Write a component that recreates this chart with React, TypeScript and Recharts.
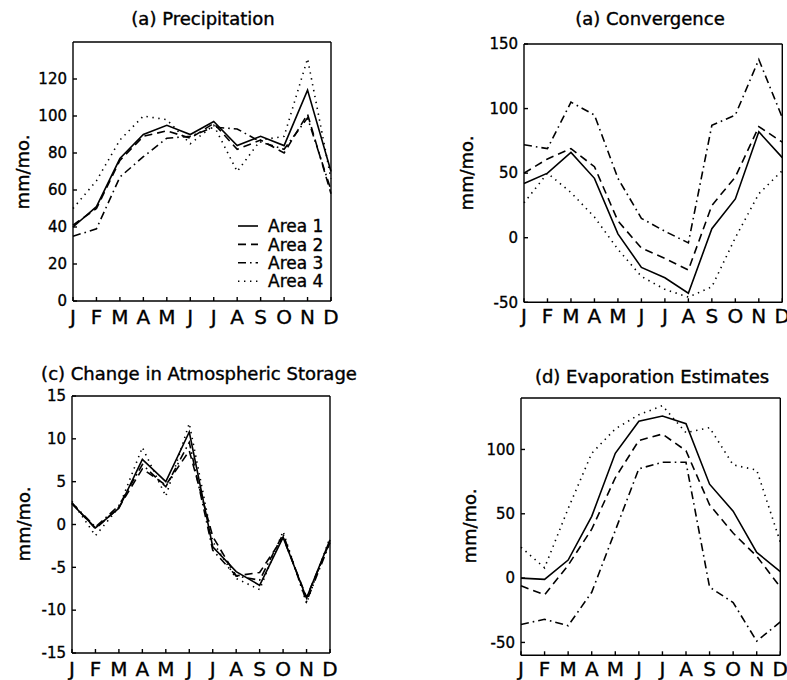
import React from "react";
import { Legend, Line, LineChart, XAxis, YAxis } from "recharts";

const months = ["J", "F", "M", "A", "M", "J", "J", "A", "S", "O", "N", "D"];

// (a) Precipitation, mm/mo.
const precipArea1 = [40, 51, 77, 90, 95, 90, 97, 84, 89, 84, 114, 70];
const precipArea2 = [41, 50, 76, 89, 92, 88, 96, 82, 87, 80, 101, 58];
const precipArea3 = [35, 39, 67, 78, 88, 89, 94, 93, 86, 82, 99, 60];
const precipArea4 = [50, 65, 87, 100, 98, 85, 95, 70, 87, 89, 131, 66];

// (a) Convergence
const convArea1 = [42, 50, 66, 46, 3, -23, -31, -43, 7, 30, 82, 62];
const convArea2 = [50, 61, 69, 55, 13, -8, -16, -25, 25, 47, 86, 74];
const convArea3 = [72, 69, 105, 95, 46, 15, 5, -4, 87, 95, 138, 93];
const convArea4 = [27, 50, 35, 16, -9, -30, -40, -46, -38, 0, 34, 52];

// (c) Change in atmospheric storage
const storArea1 = [2.4, -0.4, 1.9, 7.6, 5.0, 10.8, -2.6, -5.5, -7.1, -1.5, -8.6, -1.8];
const storArea2 = [2.5, -0.5, 2.0, 6.5, 4.6, 8.6, -1.4, -6.0, -5.6, -1.5, -8.5, -2.0];
const storArea3 = [2.5, -0.3, 2.2, 7.0, 4.4, 9.6, -3.0, -6.0, -6.5, -1.1, -9.0, -2.1];
const storArea4 = [2.7, -1.3, 2.0, 9.0, 3.3, 11.8, -2.0, -6.3, -7.6, -0.8, -9.2, -1.5];

// (d) Evaporation estimates
const evapArea1 = [0, -1, 14, 48, 97, 122, 126, 120, 73, 52, 20, 5];
const evapArea2 = [-6, -13, 10, 38, 78, 107, 112, 99, 57, 35, 17, -7];
const evapArea3 = [-36, -32, -37, -11, 37, 85, 90, 90, -7, -19, -49, -34];
const evapArea4 = [24, 8, 54, 97, 116, 127, 134, 113, 117, 88, 84, 28];

const FONT = "'DejaVu Sans', 'Liberation Sans', Arial, sans-serif";
const INK = "#000";
const monthIdx = months.map((_, i) => i);

const series = [
  { key: "a1", name: "Area 1", dash: undefined as string | undefined },
  { key: "a2", name: "Area 2", dash: "8 5" },
  { key: "a3", name: "Area 3", dash: "8 4 1.6 4" },
  { key: "a4", name: "Area 4", dash: "1.4 4.6" },
];

function buildRows(a1: number[], a2: number[], a3: number[], a4: number[]) {
  return months.map((_, i) => ({ m: i, a1: a1[i], a2: a2[i], a3: a3[i], a4: a4[i] }));
}

interface PanelSpec {
  title: string;
  rows: Array<Record<string, number>>;
  domain: [number, number];
  yTicks: number[];
  plot: { x: number; y: number; w: number; h: number };
  titleAt: [number, number];
  labelX: number;
  monthGap: number;
  legend?: { left: number; top: number };
}

const panels: PanelSpec[] = [
  {
    title: "(a) Precipitation",
    rows: buildRows(precipArea1, precipArea2, precipArea3, precipArea4),
    domain: [0, 140],
    yTicks: [0, 20, 40, 60, 80, 100, 120],
    plot: { x: 73, y: 42, w: 258, h: 259 },
    titleAt: [203, 18],
    labelX: 22,
    monthGap: 13,
    legend: { left: 233, top: 184 },
  },
  {
    title: "(a) Convergence",
    rows: buildRows(convArea1, convArea2, convArea3, convArea4),
    domain: [-50, 150],
    yTicks: [-50, 0, 50, 100, 150],
    plot: { x: 523.7, y: 43.7, w: 258.3, h: 258.3 },
    titleAt: [650, 18],
    labelX: 466,
    monthGap: 11,
  },
  {
    title: "(c) Change in Atmospheric Storage",
    rows: buildRows(storArea1, storArea2, storArea3, storArea4),
    domain: [-15, 15],
    yTicks: [-15, -10, -5, 0, 5, 10, 15],
    plot: { x: 72, y: 395.7, w: 258, h: 257 },
    titleAt: [199, 373],
    labelX: 22.5,
    monthGap: 12.5,
  },
  {
    title: "(d) Evaporation Estimates",
    rows: buildRows(evapArea1, evapArea2, evapArea3, evapArea4),
    domain: [-60, 140],
    yTicks: [-50, 0, 50, 100],
    plot: { x: 520.7, y: 397.7, w: 259.3, h: 257.3 },
    titleAt: [652, 376],
    labelX: 469,
    monthGap: 11,
  },
];

const axisStroke = { stroke: INK, strokeWidth: 1.4 };
// scanned-print look: glyphs a little heavier than the plain font
const heavySvg = { stroke: INK, strokeWidth: 0.35 };
const heavyCss = { WebkitTextStroke: "0.4px #000" } as React.CSSProperties;

function LegendBox() {
  return (
    <svg width={100} height={76} style={{ display: "block", overflow: "visible" }}>
      {series.map((s, i) => {
        const cy = 10 + i * 18.4;
        return (
          <g key={s.key}>
            <line x1={2} x2={22} y1={cy} y2={cy} stroke={INK} strokeWidth={1.6} strokeDasharray={s.dash} />
            <text x={32} y={cy} dy="0.36em" fontSize={17} fontFamily={FONT} fill={INK} {...heavySvg}>
              {s.name}
            </text>
          </g>
        );
      })}
    </svg>
  );
}

function Panel({ p }: { p: PanelSpec }) {
  const left = p.plot.x - 70;
  const top = p.plot.y - 10;
  const width = p.plot.w + 80;
  const height = p.plot.h + 42;
  return (
    <>
      <div
        style={{
          position: "absolute",
          left: p.titleAt[0],
          top: p.titleAt[1],
          transform: "translate(-50%, -50%)",
          fontFamily: FONT,
          fontSize: 18,
          whiteSpace: "nowrap",
          color: INK,
          ...heavyCss,
        }}
      >
        {p.title}
      </div>
      <div
        style={{
          position: "absolute",
          left: p.labelX,
          top: p.plot.y + p.plot.h / 2,
          transform: "translate(-50%, -50%) rotate(-90deg)",
          fontFamily: FONT,
          fontSize: 18,
          whiteSpace: "nowrap",
          color: INK,
          ...heavyCss,
        }}
      >
        mm/mo.
      </div>
      <div style={{ position: "absolute", left, top }}>
        <LineChart
          width={width}
          height={height}
          data={p.rows}
          margin={{ top: 9, right: 9, bottom: 0, left: 30 }}
        >
          <XAxis
            xAxisId="bottom"
            dataKey="m"
            type="number"
            domain={[0, 11]}
            ticks={monthIdx}
            interval={0}
            tickFormatter={(v: number) => months[v]}
            height={32}
            tickSize={-4}
            tickMargin={p.monthGap}
            axisLine={axisStroke}
            tickLine={axisStroke}
            tick={{ fontSize: 20, fill: INK, fontFamily: FONT, ...heavySvg }}
          />
          <XAxis
            xAxisId="top"
            orientation="top"
            dataKey="m"
            type="number"
            domain={[0, 11]}
            ticks={monthIdx}
            interval={0}
            height={1}
            tickSize={-4}
            axisLine={axisStroke}
            tickLine={axisStroke}
            tick={false}
          />
          <YAxis
            yAxisId="left"
            type="number"
            domain={p.domain}
            ticks={p.yTicks}
            interval={0}
            allowDataOverflow
            width={40}
            tickSize={-4}
            tickMargin={10}
            axisLine={axisStroke}
            tickLine={axisStroke}
            tick={{ fontSize: 15, fill: INK, fontFamily: FONT, ...heavySvg }}
          />
          <YAxis
            yAxisId="right"
            orientation="right"
            type="number"
            domain={p.domain}
            ticks={p.yTicks}
            interval={0}
            allowDataOverflow
            width={1}
            tickSize={-4}
            axisLine={axisStroke}
            tickLine={axisStroke}
            tick={false}
          />
          {series.map((s) => (
            <Line
              key={s.key}
              xAxisId="bottom"
              yAxisId="left"
              type="linear"
              dataKey={s.key}
              name={s.name}
              stroke={INK}
              strokeWidth={1.6}
              strokeDasharray={s.dash}
              dot={false}
              activeDot={false}
              isAnimationActive={false}
            />
          ))}
          {p.legend && (
            <Legend
              layout="vertical"
              align="center"
              verticalAlign="middle"
              wrapperStyle={{ left: p.legend.left, top: p.legend.top, width: 100 }}
              content={() => <LegendBox />}
            />
          )}
        </LineChart>
      </div>
    </>
  );
}

export default function App() {
  return (
    <div
      style={{
        position: "absolute",
        left: 0,
        top: 0,
        width: 787,
        height: 680,
        background: "#fff",
        overflow: "hidden",
      }}
    >
      {panels.map((p) => (
        <Panel key={p.title} p={p} />
      ))}
    </div>
  );
}
